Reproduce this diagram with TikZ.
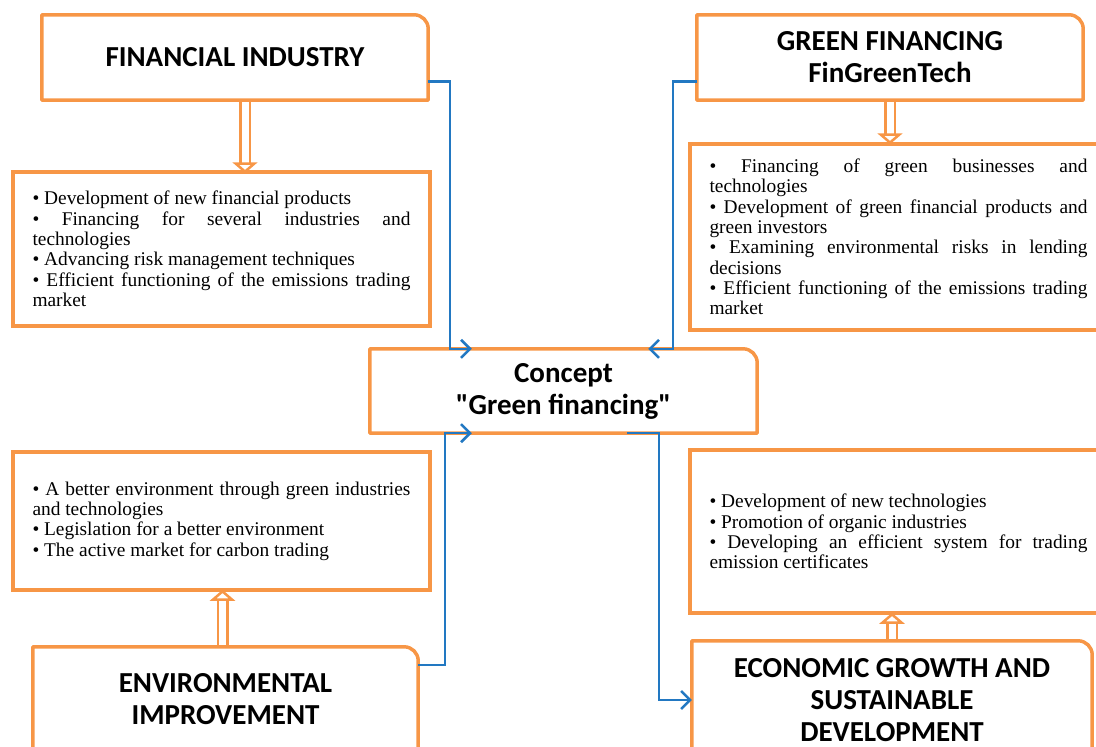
\documentclass[tikz,border=0pt]{standalone}
\usepackage{fontspec}
\setmainfont{Liberation Serif}
\newfontfamily\headfont{Carlito}
\usetikzlibrary{arrows.meta}

\definecolor{boxorange}{HTML}{F79646}
\definecolor{linkblue}{HTML}{2278C2}

\newcommand{\headtext}{\headfont\bfseries\fontsize{29}{32}\selectfont}
\newcommand{\listtext}{\fontsize{19.4}{20.3}\selectfont\spaceskip=.25em plus 2em\relax
  \hyphenpenalty=10000\relax\parindent=0pt\relax}

\begin{document}
\begin{tikzpicture}[x=1pt, y=-1pt,
    >={Straight Barb[length=9pt,width=18pt]},
    head/.style={align=center, font=\headtext, inner sep=0pt},
    itembox/.style={draw=boxorange, line width=3.5pt, minimum width=417pt,
      text width=378pt, inner xsep=19.5pt, align=justify, font=\listtext},
    link/.style={draw=linkblue, line width=2.5pt, ->},
    feed/.style={draw=boxorange, line width=2.5pt, double=white, double distance=7pt,
      -{Triangle[open, fill=white, length=11pt, width=25pt, line width=2.5pt]}}]

    \useasboundingbox (0,0) rectangle (1096,747);

    % title boxes
    \node[head, minimum width=386pt, minimum height=85pt]  (fin)     at (235,57.5)   {FINANCIAL INDUSTRY};
    \node[head, minimum width=386pt, minimum height=85pt]  (green)   at (890,57.5)   {GREEN FINANCING\\FinGreenTech};
    \node[head, minimum width=387pt, minimum height=84pt]  (concept) at (563.5,391)  {Concept\\\textquotedbl Green financing\textquotedbl};
    \node[head, minimum width=385pt, minimum height=104pt] (env)     at (225.5,699)  {ENVIRONMENTAL\\IMPROVEMENT};
    \node[head, minimum width=400pt, minimum height=118pt] (econ)    at (892,700)    {ECONOMIC GROWTH AND\\SUSTAINABLE\\DEVELOPMENT};

    % lists
    \node[itembox, minimum height=154pt] (finlist) at (221.5,249)
      {\textbullet{} Development of new financial products\par
       \textbullet{} Financing for several industries and technologies\par
       \textbullet{} Advancing risk management techniques\par
       \textbullet{} Efficient functioning of the emissions trading market};
    \node[itembox, minimum height=186pt] (greenlist) at (898.5,237)
      {\textbullet{} Financing of green businesses and technologies\par
       \textbullet{} Development of green financial products and green investors\par
       \textbullet{} Examining environmental risks in lending decisions\par
       \textbullet{} Efficient functioning of the emissions trading market};
    \node[itembox, minimum height=138pt] (envlist) at (221.5,521)
      {\textbullet{} A better environment through green industries and technologies\par
       \textbullet{} Legislation for a better environment\par
       \textbullet{} The active market for carbon trading};
    \node[itembox, minimum height=163pt] (econlist) at (898.5,531.5)
      {\textbullet{} Development of new technologies\par
       \textbullet{} Promotion of organic industries\par
       \textbullet{} Developing an efficient system for trading emission certificates};

    % hollow arrows
    \draw[feed] ([xshift=10pt]fin.south) -- ([xshift=10pt, yshift=-3pt]fin.south |- finlist.north);
    \draw[feed] (green.south) -- ([yshift=-2pt]green.south |- greenlist.north);
    \draw[feed] ([xshift=-3pt]env.north) -- ([yshift=2pt,xshift=-3pt]env.north |- envlist.south);
    \draw[feed] (econ.north) -- ([yshift=2pt]econ.north |- econlist.south);

    \foreach \n in {fin,green,concept,env,econ}
      \draw[boxorange, line width=3.5pt, line join=round]
        (\n.south west) -- (\n.north west) -- ([xshift=-14pt]\n.north east)
        arc[start angle=90, end angle=0, radius=14pt] -- (\n.south east) -- cycle;

    % links to the concept
    \draw[link] ([yshift=-24pt]fin.east) -| ([xshift=80pt]concept.north west)
      -- ([xshift=102pt]concept.north west);
    \draw[link] ([yshift=-24pt]green.west) -| ([xshift=-84pt]concept.north east)
      -- ([xshift=-109pt]concept.north east);
    \draw[link] ([yshift=-18pt]env.north east) -| ([xshift=75pt]concept.south west)
      -- ([xshift=102pt]concept.south west);
    \draw[link] ([xshift=-130pt]concept.south east) -- ([xshift=-98pt]concept.south east)
      |- (econ.west);
\end{tikzpicture}
\end{document}
